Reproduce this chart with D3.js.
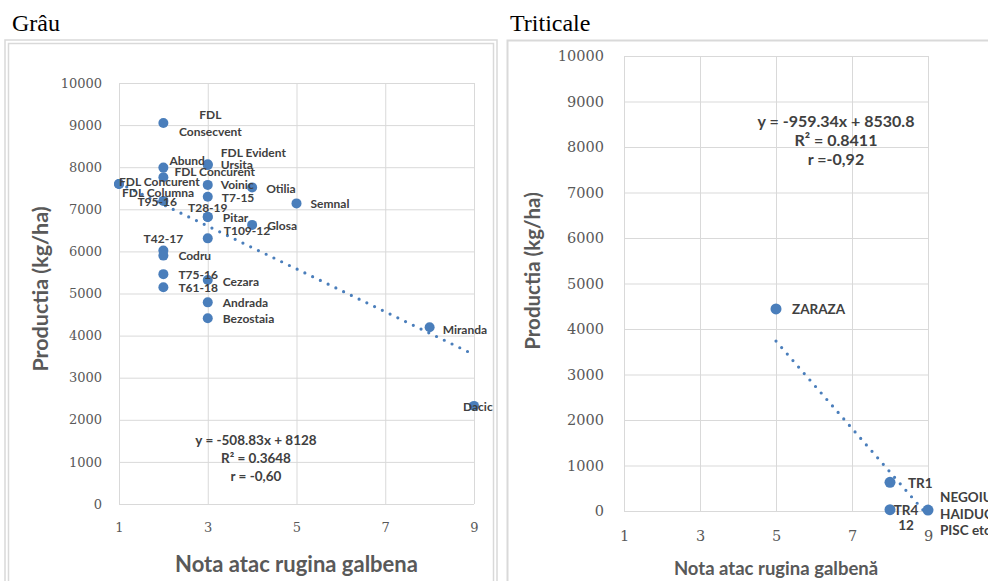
<!DOCTYPE html>
<html>
<head>
<meta charset="utf-8">
<script src="https://cdn.jsdelivr.net/npm/d3@7/dist/d3.min.js"></script>
<style>
  html, body { margin: 0; padding: 0; background: #fff; }
  svg { display: block; }
</style>
</head>
<body>
<svg id="chart" width="988" height="581"></svg>
<script>
// ---- Data: wheat (Grâu) ----
const wheatVarieties = [
  "FDL\nConsecvent", "Abund", "FDL Concurent", "FDL Concurent", "FDL Columna", "T95-16",
  "FDL Evident", "Ursita", "Voinic", "T7-15", "T28-19", "Pitar", "T109-12",
  "Glosa", "Otilia", "Semnal", "T42-17", "Codru", "T75-16", "T61-18",
  "Cezara", "Andrada", "Bezostaia", "Miranda", "Dacic"
];
const wheatRust = [2, 2, 2, 1, 1, 2, 3, 3, 3, 3, 3, 3, 3, 4, 4, 5, 2, 2, 2, 2, 3, 3, 3, 8, 9];
const wheatYield = [9050, 7990, 7760, 7600, 7600, 7200, 8070, 8050, 7580, 7300, 6820, 6820, 6310,
  6630, 7520, 7140, 6020, 5900, 5460, 5150, 5320, 4790, 4410, 4200, 2330];
const wheatTrend = [-508.83, 8128];           // slope, intercept
const wheatStats = ["y = -508.83x + 8128", "R² = 0.3648", "r = -0,60"];

// ---- Data: triticale ----
const triticaleVarieties = ["ZARAZA", "TR1", "TR4\n12", "NEGOIU\nHAIDUC\nPISC etc"];
const triticaleRust = [5, 8, 8, 9];
const triticaleYield = [4440, 630, 30, 20];
const triticaleTrend = [-959.34, 8530.8];
const triticaleStats = ["y = -959.34x + 8530.8", "R² = 0.8411", "r =-0,92"];

// ---- Axis ticks ----
const xTicks = [1, 3, 5, 7, 9];
const yTicks = [0, 1000, 2000, 3000, 4000, 5000, 6000, 7000, 8000, 9000, 10000];

// Label placement (offsets from each marker, in px)
const wheatLabelPos = [
  {dx: 47, dy: [-8, 9], anchor: "middle"}, {dx: 6, dy: -7}, {dx: 11, dy: -6}, {dx: 0, dy: -3},
  {dx: 3, dy: 8}, {dx: -26, dy: 1}, {dx: 13, dy: -12}, {dx: 13, dy: -1}, {dx: 13, dy: 0},
  {dx: 14, dy: 1}, {dx: 0, dy: -9, anchor: "middle"}, {dx: 15, dy: 1}, {dx: 16, dy: -8},
  {dx: 15, dy: 1}, {dx: 14, dy: 1}, {dx: 14, dy: 0}, {dx: 0, dy: -12, anchor: "middle"},
  {dx: 15, dy: 0}, {dx: 15, dy: 0}, {dx: 15, dy: 0}, {dx: 15, dy: 1}, {dx: 15, dy: 0},
  {dx: 15, dy: 0}, {dx: 13, dy: 2}, {dx: -11, dy: 1}
];
const triticaleLabelPos = [
  {dx: 16, dy: 0}, {dx: 18, dy: 1}, {dx: 16, dy: [0, 15], anchor: "middle"},
  {dx: 12, dy: [-13, 4, 20]}
];

const svg = d3.select("#chart");
const blue = "#4a7ebb";
const axisGrey = "#595959";
const labelGrey = "#404040";
const gridGrey = "#d9d9d9";

// Panel titles and frames
svg.append("text").attr("x", 12).attr("y", 31)
  .attr("font-family", "Liberation Serif, Times New Roman, serif").attr("font-size", 24)
  .attr("fill", "#000").text("Grâu");
svg.append("text").attr("x", 510).attr("y", 31)
  .attr("font-family", "Liberation Serif, Times New Roman, serif").attr("font-size", 24)
  .attr("fill", "#000").text("Triticale");

svg.append("rect").attr("x", 5).attr("y", 40).attr("width", 492).attr("height", 600)
  .attr("fill", "none").attr("stroke", gridGrey).attr("stroke-width", 1.5);
svg.append("rect").attr("x", 8.5).attr("y", 43.5).attr("width", 485).attr("height", 600)
  .attr("fill", "none").attr("stroke", gridGrey).attr("stroke-width", 1.5);
svg.append("rect").attr("x", 507.5).attr("y", 40.5).attr("width", 600).attr("height", 600)
  .attr("fill", "none").attr("stroke", gridGrey).attr("stroke-width", 2);

function drawPanel(p) {
  const g = svg.append("g");
  const x = d3.scaleLinear().domain([1, 9]).range([p.left, p.right]);
  const y = d3.scaleLinear().domain([0, 10000]).range([p.bottom, p.top]);

  // gridlines
  const gx = g.append("g").attr("transform", `translate(0,${p.bottom})`)
    .call(d3.axisBottom(x).tickValues(xTicks).tickSize(-(p.bottom - p.top)).tickFormat(""));
  const gy = g.append("g").attr("transform", `translate(${p.left},0)`)
    .call(d3.axisLeft(y).tickValues(yTicks).tickSize(-(p.right - p.left)).tickFormat(""));
  [gx, gy].forEach(a => {
    a.select(".domain").remove();
    a.selectAll(".tick line").attr("stroke", gridGrey).attr("stroke-width", 1);
  });

  // tick labels
  const ax = g.append("g").attr("transform", `translate(0,${p.bottom + p.xTickGap})`)
    .call(d3.axisBottom(x).tickValues(xTicks).tickSize(0).tickFormat(d3.format("d")));
  const ay = g.append("g").attr("transform", `translate(${p.left - p.yTickGap},0)`)
    .call(d3.axisLeft(y).tickValues(yTicks).tickSize(0).tickFormat(d3.format("d")));
  [ax, ay].forEach(a => {
    a.select(".domain").remove();
    a.selectAll("text").attr("font-family", "DejaVu Serif, serif")
      .attr("font-size", p.tickSize).attr("fill", axisGrey);
  });
  ax.selectAll("text").attr("dy", "0.35em").attr("y", 0);

  // axis titles
  g.append("text").attr("x", (p.left + p.right) / 2).attr("y", p.xTitleY)
    .attr("text-anchor", "middle").attr("dominant-baseline", "central")
    .attr("font-family", "Lato, sans-serif").attr("font-weight", 700)
    .attr("font-size", p.xTitleSize).attr("fill", axisGrey).text(p.xTitle);
  g.append("text")
    .attr("transform", `translate(${p.yTitleX},${p.yTitleY}) rotate(-90)`)
    .attr("text-anchor", "middle").attr("dominant-baseline", "central")
    .attr("font-family", "Lato, sans-serif").attr("font-weight", 700)
    .attr("font-size", p.yTitleSize).attr("fill", axisGrey).text("Productia (kg/ha)");

  // trendline from the regression equation
  const clipId = "clip" + p.left;
  g.append("clipPath").attr("id", clipId).append("rect")
    .attr("x", p.left - 3).attr("y", p.top).attr("width", p.right - p.left + 6)
    .attr("height", p.bottom - p.top + 1);
  const xs = d3.extent(p.rust);
  const trend = xs.map(v => [v, p.trend[0] * v + p.trend[1]]);
  g.append("path").datum(trend)
    .attr("clip-path", `url(#${clipId})`)
    .attr("d", d3.line().x(d => x(d[0])).y(d => y(d[1])))
    .attr("fill", "none").attr("stroke", blue).attr("stroke-width", 3.2)
    .attr("stroke-linecap", "round").attr("stroke-dasharray", "0 8.6");

  // markers
  const pts = p.names.map((n, i) => ({name: n, rx: p.rust[i], yv: p.yield[i], pos: p.pos[i]}));
  g.selectAll("circle.pt").data(pts).join("circle").attr("class", "pt")
    .attr("cx", d => x(d.rx)).attr("cy", d => y(d.yv)).attr("r", p.r).attr("fill", blue);

  // data labels
  pts.forEach(d => {
    const lines = d.name.split("\n");
    const dys = Array.isArray(d.pos.dy) ? d.pos.dy : [d.pos.dy];
    lines.forEach((line, k) => {
      g.append("text")
        .attr("x", x(d.rx) + d.pos.dx).attr("y", y(d.yv) + dys[k])
        .attr("text-anchor", d.pos.anchor || "start").attr("dominant-baseline", "central")
        .attr("font-family", "Lato, sans-serif").attr("font-weight", 700)
        .attr("font-size", p.labelSize).attr("fill", labelGrey).text(line);
    });
  });

  // regression statistics
  p.stats.forEach((s, k) => {
    g.append("text").attr("x", p.statsX).attr("y", p.statsY + k * p.statsStep)
      .attr("text-anchor", "middle").attr("dominant-baseline", "central")
      .attr("font-family", "Lato, sans-serif").attr("font-weight", 700)
      .attr("font-size", p.statsSize).attr("fill", labelGrey).text(s);
  });
}

drawPanel({
  left: 119, right: 474, top: 83, bottom: 504,
  names: wheatVarieties, rust: wheatRust, yield: wheatYield, pos: wheatLabelPos,
  trend: wheatTrend, stats: wheatStats,
  statsX: 256, statsY: 440, statsStep: 18, statsSize: 13.5,
  xTickGap: 23, yTickGap: 14, tickSize: 13,
  xTitle: "Nota atac rugina galbena", xTitleY: 563, xTitleSize: 22,
  yTitleX: 40, yTitleY: 289, yTitleSize: 21.5,
  labelSize: 12, r: 5
});

drawPanel({
  left: 624, right: 928, top: 56, bottom: 511,
  names: triticaleVarieties, rust: triticaleRust, yield: triticaleYield, pos: triticaleLabelPos,
  trend: triticaleTrend, stats: triticaleStats,
  statsX: 836, statsY: 120, statsStep: 19, statsSize: 16,
  xTickGap: 25, yTickGap: 17, tickSize: 14.5,
  xTitle: "Nota atac rugina galbenă", xTitleY: 568, xTitleSize: 18.5,
  yTitleX: 532, yTitleY: 271, yTitleSize: 20.5,
  labelSize: 13.5, r: 5.5
});
</script>
</body>
</html>
